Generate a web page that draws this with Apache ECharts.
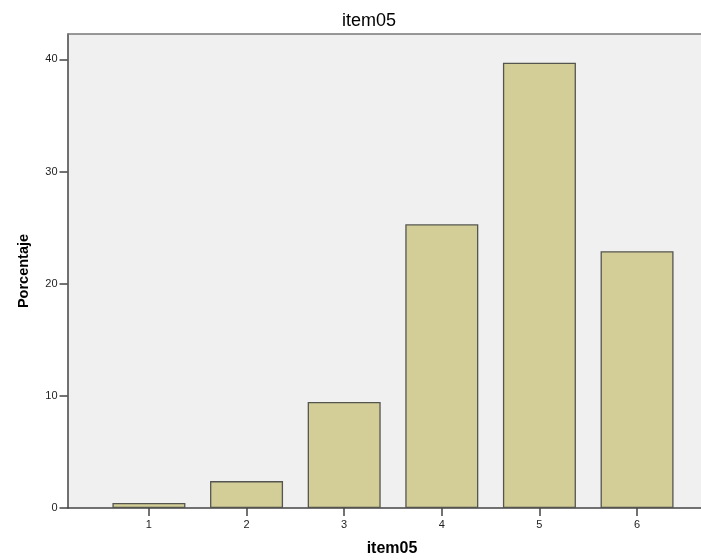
<!DOCTYPE html>
<html>
<head>
<meta charset="utf-8">
<script src="https://cdn.jsdelivr.net/npm/echarts@6/dist/echarts.min.js"></script>
<style>html,body{margin:0;padding:0;background:#fff}#c{width:701px;height:560px}</style>
</head>
<body>
<div id="c"></div>
<script>
var categories = [1, 2, 3, 4, 5, 6];
var percentages = [0.45, 2.4, 9.45, 25.3, 39.7, 22.9];
var yTicks = [0, 10, 20, 30, 40];
var titleText = 'item05';
var xTitle = 'item05';
var yTitle = 'Porcentaje';

var FONT = 'Arial, "Liberation Sans", sans-serif';
var chart = echarts.init(document.getElementById('c'), null, {renderer: 'canvas'});
var data = categories.map(function (c, i) { return [c, percentages[i]]; });
chart.setOption({
  animation: false,
  backgroundColor: '#ffffff',
  title: {
    text: titleText, left: 364, top: 7, textAlign: 'center',
    textStyle: {fontFamily: FONT, fontSize: 18, fontWeight: 'normal', color: '#000'}
  },
  graphic: [{
    type: 'text', x: 392, y: 549,
    style: {text: xTitle, align: 'center', verticalAlign: 'middle', textAlign: 'center', textVerticalAlign: 'middle',
            font: 'bold 16px ' + FONT, fill: '#000'}
  }, {
    type: 'line', z: 100,
    shape: {x1: 67.5, y1: 34, x2: 701, y2: 34},
    style: {stroke: '#777', lineWidth: 1.5}
  }],
  grid: {
    left: 67.5, top: 34, width: 634, height: 474,
    show: true, backgroundColor: '#f0f0f0', borderWidth: 0
  },
  xAxis: {
    type: 'value', min: 0.166, max: 6.655,
    axisLine: {show: true, lineStyle: {color: '#444', width: 1.5}},
    axisTick: {show: true, length: 8, lineStyle: {color: '#444', width: 1.5}, customValues: categories},
    axisLabel: {customValues: categories, fontFamily: FONT, fontSize: 11, color: '#222', margin: 11},
    splitLine: {show: false}
  },
  yAxis: {
    type: 'value', min: 0, max: 42.26,
    name: yTitle, nameLocation: 'middle', nameGap: 36, nameRotate: 90,
    nameTextStyle: {fontFamily: FONT, fontSize: 14.5, fontWeight: 'bold', color: '#000'},
    axisLine: {show: true, lineStyle: {color: '#444', width: 1.5}},
    axisTick: {show: true, length: 8, lineStyle: {color: '#444', width: 1.5}, customValues: yTicks},
    axisLabel: {customValues: yTicks, fontFamily: FONT, fontSize: 11, color: '#222', margin: 10},
    splitLine: {show: false}
  },
  series: [{
    type: 'bar', data: data, barWidth: 73,
    itemStyle: {color: '#d3ce97', borderColor: '#555550', borderWidth: 1.3}
  }]
});
</script>
</body>
</html>
